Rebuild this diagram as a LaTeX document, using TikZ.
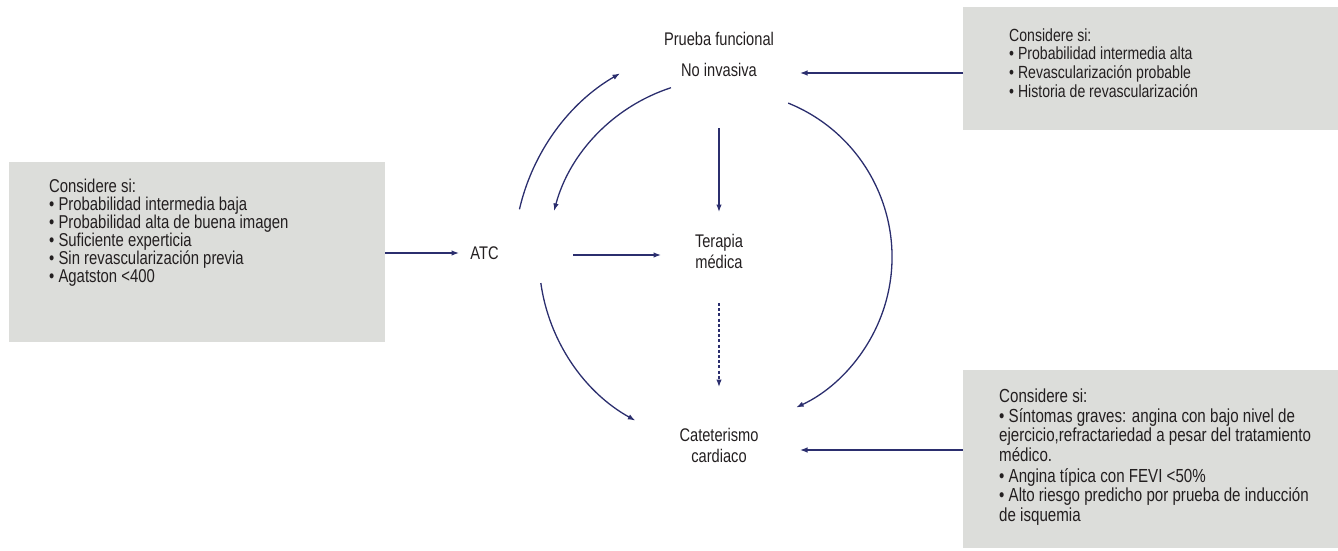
\documentclass[tikz,border=0pt]{standalone}
\usepackage{fontspec}
\setmainfont[FakeStretch=0.8]{Liberation Sans}
\usetikzlibrary{arrows.meta}
\definecolor{navy}{RGB}{43,46,110}
\definecolor{boxgray}{RGB}{220,221,218}
\definecolor{ink}{RGB}{35,31,32}
\begin{document}
\begin{tikzpicture}[x=1pt,y=-1pt,
  arr/.style={draw=navy,line width=1.3pt,-{Latex[length=7.5pt,width=5.5pt]}},
  dotarr/.style={arr,dash pattern=on 3pt off 2.2pt},
  infobox/.style={fill=boxgray,draw=none,inner sep=0pt,anchor=north west},
  label/.style={text=ink,inner sep=0pt,anchor=base,font=\fontsize{18.3}{21}\selectfont,align=center},
  boxtext/.style={text=ink,inner sep=0pt,anchor=north west,align=left}]
\useasboundingbox (0,0) rectangle (1338,550);

% grey boxes
\node[infobox,minimum width=376pt,minimum height=180pt] (boxL) at (9,162) {};
\node[infobox,minimum width=375pt,minimum height=123pt] (boxRT) at (963,7) {};
\node[infobox,minimum width=375pt,minimum height=178pt] (boxRB) at (963,370) {};

% box texts
\node[boxtext,font=\fontsize{18.6}{18}\selectfont] (txtL) at (49,178.6)
  {Considere si:\\
   • Probabilidad intermedia baja\\
   • Probabilidad alta de buena imagen\\
   • Suficiente experticia\\
   • Sin revascularización previa\\
   • Agatston <400};
\node[boxtext,font=\fontsize{17.6}{18.6}\selectfont] (txtRT) at (1009,28.4)
  {Considere si:\\
   • Probabilidad intermedia alta\\
   • Revascularización probable\\
   • Historia de revascularización};
\node[boxtext,font=\fontsize{18.9}{19.6}\selectfont] (txtRB) at (999,388.5)
  {Considere si:\\
   • Síntomas graves: angina con bajo nivel de\\
   ejercicio,refractariedad a pesar del tratamiento\\
   médico.\\[1.5pt]
   • Angina típica con FEVI <50\%\\
   • Alto riesgo predicho por prueba de inducción\\
   de isquemia};

% central labels (base anchor sits on the last line)
\node[label] (pf) at (719,45) {Prueba funcional};
\node[label] (noinv) at (719,76) {No invasiva};
\node[label] (atc) at (484.5,259) {ATC};
\node[label] (ter) at (719,268) {Terapia\\médica};
\node[label] (cat) at (719,462) {Cateterismo\\cardiaco};

% connector end points
\coordinate (hub) at (726,257);
\coordinate (noinvR) at (800,73);
\coordinate (atcL) at (459,253);
\coordinate (atcR) at (573,255);
\coordinate (terL) at (661,255);
\coordinate (noinvB) at (719,128);
\coordinate (terT) at (719,212);
\coordinate (terB) at (719,303);
\coordinate (catT) at (719,387);
\coordinate (catR) at (800,450);

% straight connectors
\draw[arr] (boxRT.west |- noinvR) -- (noinvR);
\draw[arr] (boxL.east |- atcL) -- (atcL);
\draw[arr] (atcR) -- (terL);
\draw[arr] (noinvB) -- (terT);
\draw[dotarr] (terB) -- (catT);
\draw[arr] (boxRB.west |- catR) -- (catR);

% curved connectors around the hub
\draw[arr] ([shift={(193:212)}]hub) arc[start angle=193,end angle=240,radius=212];
\draw[arr] ([shift={(252:178)}]hub) arc[start angle=252,end angle=195,radius=178];
\draw[arr] ([shift={(172:187)}]hub) arc[start angle=172,end angle=119,radius=187];
\draw[arr] ([shift={(-68:166)}]hub) arc[start angle=-68,end angle=65,radius=166];
\end{tikzpicture}
\end{document}
